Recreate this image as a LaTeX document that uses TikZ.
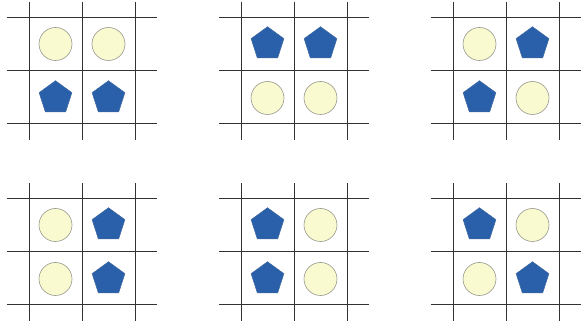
\documentclass[tikz,border=0pt]{standalone}
\usetikzlibrary{shapes.geometric}
\definecolor{discfill}{RGB}{250,250,208}
\definecolor{discline}{RGB}{150,150,140}
\definecolor{pentblue}{RGB}{42,96,170}
\tikzset{
  gridline/.style={line width=0.9pt, draw=black!80},
  disc/.style={circle, draw=discline, fill=discfill, minimum size=33pt, inner sep=0pt, line width=0.6pt},
  penta/.style={regular polygon, regular polygon sides=5, fill=pentblue, draw=pentblue!75!gray, minimum size=34.5pt, inner sep=0pt, line width=0.5pt},
}
\begin{document}
\begin{tikzpicture}[x=1pt,y=-1pt]
\useasboundingbox (0,0) rectangle (582,323);
\foreach \px/\py/\a/\b/\c/\d [count=\k] in {29/17/disc/disc/penta/penta, 241/17/penta/penta/disc/disc, 453/17/disc/penta/penta/disc, 29/198/disc/penta/disc/penta, 241/198/penta/disc/penta/disc, 453/198/penta/disc/disc/penta}{
  \begin{scope}[shift={(\px,\py)}]
    \foreach \i in {0,1,2}{
      \draw[gridline] (\i*53,-15) -- (\i*53,123);
      \draw[gridline] (-22,\i*53.3) -- (128,\i*53.3);
    }
    \node[\a] (g\k-tl) at (26.5,27) {};
    \node[\b] (g\k-tr) at (79.5,27) {};
    \node[\c] (g\k-bl) at (26.5,81) {};
    \node[\d] (g\k-br) at (79.5,81) {};
  \end{scope}
}
\end{tikzpicture}
\end{document}
